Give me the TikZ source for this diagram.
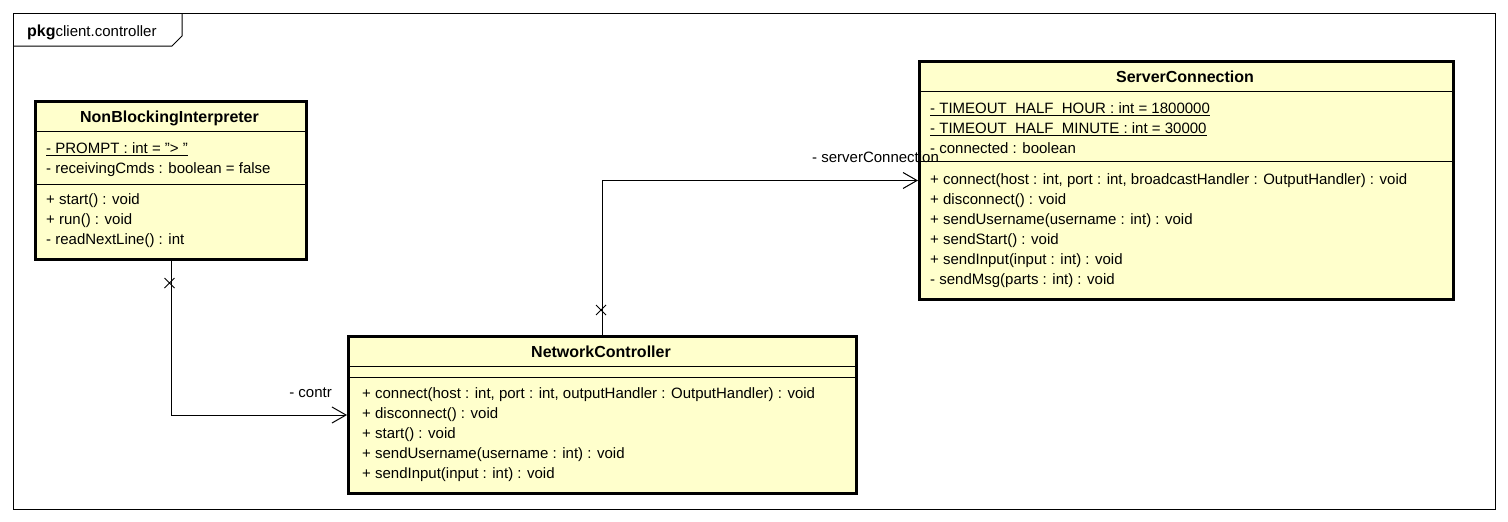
\documentclass[tikz,border=0pt]{standalone}
\usepackage{fontspec}
\setmainfont{Liberation Sans}
\usetikzlibrary{arrows.meta}
\definecolor{classfill}{HTML}{FFFFCC}
\newcommand{\stat}[1]{\setbox0\hbox{#1}\rlap{\vrule height -2.0pt depth 3.3pt width \wd0}\box0}
\tikzset{
  classbox/.style={draw, fill=classfill, line width=3pt, rectangle, inner sep=0pt, anchor=north west},
  divider/.style={line width=1pt},
  ctitle/.style={font=\fontsize{16}{20}\selectfont\bfseries, anchor=base, inner sep=0pt},
  member/.style={font=\fontsize{15}{20}\selectfont, anchor=base west, inner sep=0pt},
  role/.style={font=\fontsize{15}{20}\selectfont, anchor=base east, inner sep=0pt},
  conn/.style={line width=1pt, -{Straight Barb[length=14pt,width=16pt,line width=1pt]}},
  xmark/.style={line width=1pt},
  frame/.style={line width=1pt},
}
\begin{document}
\begin{tikzpicture}[x=1pt,y=-1pt]
\fill[white] (0,0) rectangle (1508,522);
\useasboundingbox (0,0) rectangle (1508,522);
% package frame
\draw[frame] (13,13) rectangle (1495,509);
\draw[frame] (13,46) -- (172,46) -- (182,36) -- (182,13);
\node[member] (pkg) at (27,36) {{\fontsize{16}{20}\selectfont\bfseries pkg}client.controller};

% NonBlockingInterpreter
\node[classbox, minimum width=271pt, minimum height=158pt] (nbi) at (34,100) {};
\draw[divider] (34,131) -- (305,131);
\draw[divider] (34,184) -- (305,184);
\node[ctitle] (nbit) at (169.5,122) {NonBlockingInterpreter};
\node[member] (nbia1) at (46,153) {\stat{- PROMPT : int = "> "}};
\node[member] (nbia2) at (46,173) {- receivingCmds : boolean = false};
\node[member] (nbim1) at (46,204) {+ start() : void};
\node[member] (nbim2) at (46,224) {+ run() : void};
\node[member] (nbim3) at (46,244) {- readNextLine() : int};

% ServerConnection
\node[classbox, minimum width=534pt, minimum height=238pt] (sc) at (918,60) {};
\draw[divider] (918,91) -- (1452,91);
\draw[divider] (918,161) -- (1452,161);
\node[ctitle] (sct) at (1185,82) {ServerConnection};
\node[member] (sca1) at (930,113) {\stat{- TIMEOUT\_HALF\_HOUR : int = 1800000}};
\node[member] (sca2) at (930,133) {\stat{- TIMEOUT\_HALF\_MINUTE : int = 30000}};
\node[member] (sca3) at (930,153) {- connected : boolean};
\node[member] (scm1) at (930,184) {+ connect(host : int, port : int, broadcastHandler : OutputHandler) : void};
\node[member] (scm2) at (930,204) {+ disconnect() : void};
\node[member] (scm3) at (930,224) {+ sendUsername(username : int) : void};
\node[member] (scm4) at (930,244) {+ sendStart() : void};
\node[member] (scm5) at (930,264) {+ sendInput(input : int) : void};
\node[member] (scm6) at (930,284) {- sendMsg(parts : int) : void};

% NetworkController
\node[classbox, minimum width=508pt, minimum height=157pt] (nc) at (347,335) {};
\draw[divider] (347,366) -- (855,366);
\draw[divider] (347,377) -- (855,377);
\node[ctitle] (nct) at (601,357) {NetworkController};
\node[member] (ncm1) at (362,398) {+ connect(host : int, port : int, outputHandler : OutputHandler) : void};
\node[member] (ncm2) at (362,418) {+ disconnect() : void};
\node[member] (ncm3) at (362,438) {+ start() : void};
\node[member] (ncm4) at (362,458) {+ sendUsername(username : int) : void};
\node[member] (ncm5) at (362,478) {+ sendInput(input : int) : void};

% connectors
\draw[conn] (nbi.south) |- (nc.west);
\draw[xmark] (164.5,278) -- (174.5,288) (174.5,278) -- (164.5,288);
\node[role] (contr) at (332,397) {- contr};

\draw[conn] (nc.north) |- (sc.west);
\draw[xmark] (596,305) -- (606,315) (606,305) -- (596,315);
\node[member] (srv) at (812,162) {- serverConnection};
\end{tikzpicture}
\end{document}
